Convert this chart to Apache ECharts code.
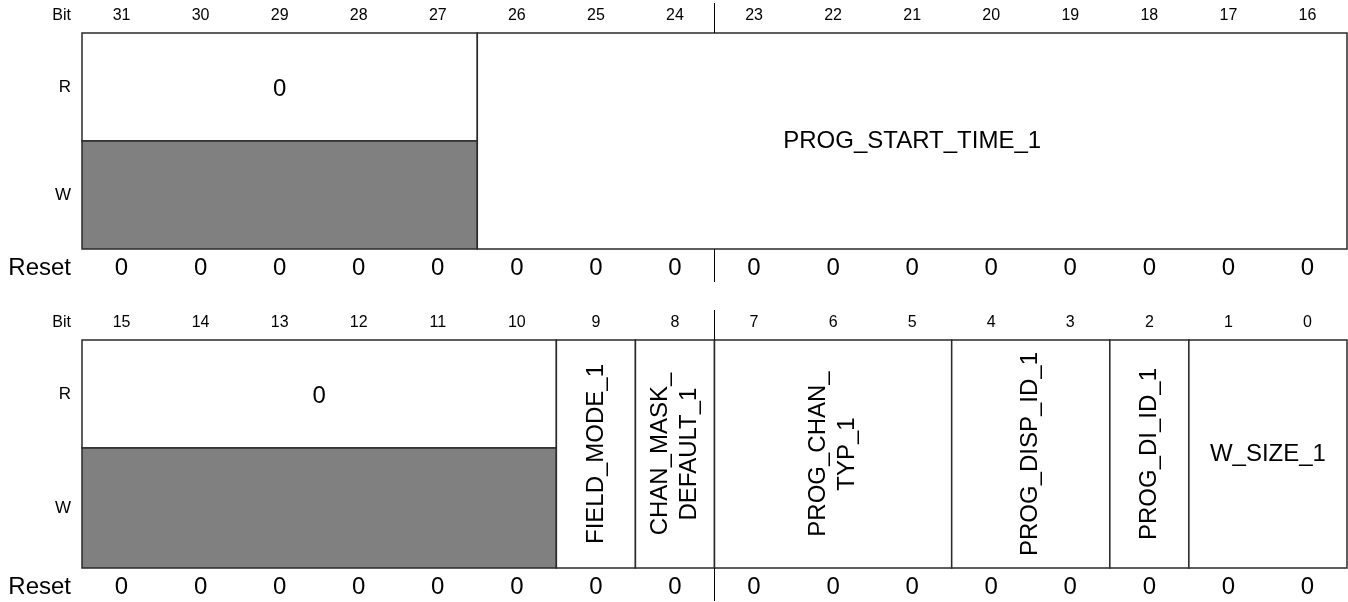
<!DOCTYPE html>
<html>
<head>
<meta charset="utf-8">
<script src="https://cdn.jsdelivr.net/npm/echarts@6/dist/echarts.min.js"></script>
<style>
html,body{margin:0;padding:0;background:#fff;}
#chart{width:1348px;height:602px;}
</style>
</head>
<body>
<div id="chart"></div>
<script>
// ---- data ----
const bitsTop = ['31','30','29','28','27','26','25','24','23','22','21','20','19','18','17','16'];
const bitsBottom = ['15','14','13','12','11','10','9','8','7','6','5','4','3','2','1','0'];
const resetTop = [0,0,0,0,0,0,0,0,0,0,0,0,0,0,0,0];
const resetBottom = [0,0,0,0,0,0,0,0,0,0,0,0,0,0,0,0];
const fieldNamesTop = ['0', 'PROG_START_TIME_1'];
const fieldMsbTop = [31, 26];
const fieldLsbTop = [27, 16];
const fieldAccessTop = ['R', 'RW'];
const fieldNamesBottom = ['0', 'FIELD_MODE_1', 'CHAN_MASK_\nDEFAULT_1', 'PROG_CHAN_\nTYP_1', 'PROG_DISP_ID_1', 'PROG_DI_ID_1', 'W_SIZE_1'];
const fieldMsbBottom = [15, 9, 8, 7, 4, 2, 1];
const fieldLsbBottom = [10, 9, 8, 5, 3, 2, 0];
const fieldAccessBottom = ['R', 'RW', 'RW', 'RW', 'RW', 'RW', 'RW'];
const rowLabels = ['R', 'W'];
const bitLabel = 'Bit';
const resetLabel = 'Reset';
const separatorAfterBit = 8; // boundary between bit index 7 and 8 in each register

// ---- layout / style ----
const FONT = '"Liberation Sans", Arial, Helvetica, sans-serif';
const BIG = 24, SMALL = 16, SIDE = 17;
const registers = [
  {bits: bitsTop, reset: resetTop, names: fieldNamesTop, msb: fieldMsbTop, lsb: fieldLsbTop, access: fieldAccessTop, yMax: 2},
  {bits: bitsBottom, reset: resetBottom, names: fieldNamesBottom, msb: fieldMsbBottom, lsb: fieldLsbBottom, access: fieldAccessBottom, yMax: 1.9}
];

const measureCtx = document.createElement('canvas').getContext('2d');
function textWidth(t, size) {
  measureCtx.font = size + 'px ' + FONT;
  return measureCtx.measureText(t.replace(/\n/g, '')).width;
}

const LINE = {stroke: '#2a2a2a', lineWidth: 1.5};

function fieldRender(reg) {
  return function (params, api) {
    const i = params.dataIndex;
    const hi = reg.bits.indexOf(String(reg.msb[i]));
    const lo = reg.bits.indexOf(String(reg.lsb[i]));
    const band = api.size([1, 0])[0];
    const x0 = api.coord([hi, 0])[0] - band / 2;
    const x1 = api.coord([lo, 0])[0] + band / 2;
    const yTop = api.coord([0, reg.yMax])[1];
    const yMid = api.coord([0, 1])[1];
    const yBot = api.coord([0, 0])[1];
    const children = [];
    const name = reg.names[i];
    let cx = (x0 + x1) / 2, cy, rot = 0;
    if (reg.access[i] === 'R') {
      children.push({type: 'rect', shape: {x: x0, y: yTop, width: x1 - x0, height: yMid - yTop}, style: Object.assign({fill: '#fff'}, LINE)});
      children.push({type: 'rect', shape: {x: x0, y: yMid, width: x1 - x0, height: yBot - yMid}, style: Object.assign({fill: '#808080'}, LINE)});
      cy = (yTop + yMid) / 2 + 2;
    } else {
      children.push({type: 'rect', shape: {x: x0, y: yTop, width: x1 - x0, height: yBot - yTop}, style: Object.assign({fill: '#fff'}, LINE)});
      cy = (yTop + yBot) / 2;
      if (textWidth(name, BIG) > (x1 - x0) - 12) rot = Math.PI / 2;
    }
    children.push({
      type: 'text', x: cx, y: cy, rotation: rot, z2: 10,
      style: {text: rot ? name : name.replace(/\n/g, ''), fill: '#000', fontSize: BIG, fontFamily: FONT, align: 'center', verticalAlign: 'middle', lineHeight: 29}
    });
    return {type: 'group', children: children};
  };
}

function decoRender(reg) {
  return function (params, api) {
    const band = api.size([1, 0])[0];
    const xLeft = api.coord([0, 0])[0] - band / 2;
    const xSep = api.coord([separatorAfterBit, 0])[0] - band / 2;
    const yTop = api.coord([0, reg.yMax])[1];
    const yMid = api.coord([0, 1])[1];
    const yBot = api.coord([0, 0])[1];
    const lx = xLeft - 11;
    const t = (text, y, size) => ({type: 'text', x: lx, y: y,
      style: {text: text, fill: '#000', fontSize: size, fontFamily: FONT, align: 'right', verticalAlign: 'middle'}});
    return {type: 'group', children: [
      t(bitLabel, yTop - 17, SMALL),
      t(rowLabels[0], (yTop + yMid) / 2, SIDE),
      t(rowLabels[1], (yMid + yBot) / 2, SIDE),
      t(resetLabel, yBot + 19, BIG),
      {type: 'line', shape: {x1: xSep, y1: yTop - 30, x2: xSep, y2: yTop}, style: {stroke: '#000', lineWidth: 1}},
      {type: 'line', shape: {x1: xSep, y1: yBot, x2: xSep, y2: yBot + 33}, style: {stroke: '#000', lineWidth: 1}}
    ]};
  };
}

const grids = [
  {left: 82, right: 1, top: 33, height: 216},
  {left: 82, right: 1, top: 340, height: 228}
];
const xAxes = [], yAxes = [], series = [];
registers.forEach((reg, g) => {
  xAxes.push({
    type: 'category', gridIndex: g, data: reg.bits, position: 'top', boundaryGap: true,
    axisLine: {show: false}, axisTick: {show: false}, splitLine: {show: false},
    axisLabel: {interval: 0, margin: 9, fontSize: SMALL, color: '#000', fontFamily: FONT}
  });
  xAxes.push({
    type: 'category', gridIndex: g, data: reg.bits, position: 'bottom', boundaryGap: true,
    axisLine: {show: false}, axisTick: {show: false}, splitLine: {show: false},
    axisLabel: {interval: 0, margin: 7, fontSize: BIG, color: '#000', fontFamily: FONT,
      formatter: (v, idx) => String(reg.reset[idx])}
  });
  yAxes.push({type: 'value', gridIndex: g, min: 0, max: reg.yMax, show: false, splitLine: {show: false}});
  series.push({
    type: 'custom', xAxisIndex: g * 2, yAxisIndex: g, renderItem: fieldRender(reg),
    data: reg.names.map((n, i) => [reg.bits.indexOf(String(reg.msb[i])), 0]), silent: true, animation: false
  });
  series.push({
    type: 'custom', xAxisIndex: g * 2, yAxisIndex: g, renderItem: decoRender(reg),
    data: [[0, 0]], silent: true, animation: false
  });
});

const chart = echarts.init(document.getElementById('chart'), null, {renderer: 'canvas'});
chart.setOption({
  backgroundColor: '#fff',
  animation: false,
  grid: grids,
  xAxis: xAxes,
  yAxis: yAxes,
  series: series
});
</script>
</body>
</html>
